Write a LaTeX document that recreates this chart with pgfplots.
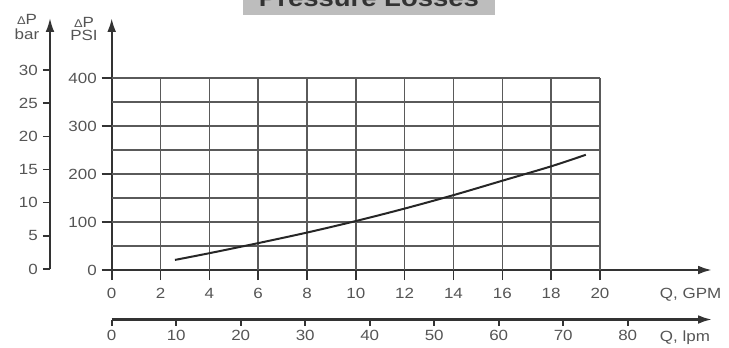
\documentclass[border=0pt]{standalone}
\usepackage{fontspec}
\setmainfont{Liberation Sans}[FakeStretch=1.15]
\usepackage{pgfplots}
\pgfplotsset{compat=1.18}
\usetikzlibrary{arrows.meta}
\definecolor{axc}{HTML}{333333}
\definecolor{gridc}{HTML}{5A5A5A}
\definecolor{txt}{HTML}{555555}
\definecolor{titlebox}{HTML}{BDBDBD}
\newcommand{\tf}{\fontsize{10.5}{12}\selectfont}
\begin{document}
\begin{tikzpicture}[x=0.25mm,y=0.25mm]
\path[use as bounding box] (0,0) rectangle (729,347);
\clip (0,0) rectangle (729,347);
\coordinate (mainO) at (111.7,77);
\coordinate (barO) at (50,78);
\coordinate (lpmO) at (111.7,27.5);
% title box (cut at top as in the reference)
\fill[titlebox] (243,332) rectangle (495,360);
\node[anchor=base, font=\bfseries\fontsize{17}{20}\selectfont, text=axc, inner sep=0pt] at (369,340) {Pressure Losses};

% main axis: Q in GPM vs Delta P in PSI
\begin{axis}[
  scale only axis,
  at={(mainO)}, anchor=south west,
  width=150.08mm, height=63mm,
  xmin=0, xmax=24.59, ymin=0, ymax=525,
  axis lines=left,
  axis line style={axc, line width=0.6mm},
  x axis line style={-{Latex[length=3.5mm,width=2.2mm]}},
  y axis line style={-{Latex[length=3.5mm,width=2.2mm]}},
  xtick={0,2,...,20}, ytick={0,100,...,400},
  tick align=outside, major tick length=2.5mm,
  tick style={axc, line width=0.4mm},
  ticklabel style={font=\tf, text=txt},
  xticklabel style={yshift=-0.8mm},
  /pgf/number format/assume math mode=true,
  clip=false,
]
\pgfplotsinvokeforeach{2,4,...,20}{\draw[gridc, line width=0.35mm] (axis cs:#1,0) -- (axis cs:#1,400);}
\pgfplotsinvokeforeach{50,100,...,400}{\draw[gridc, line width=0.35mm] (axis cs:0,#1) -- (axis cs:20,#1);}
\addplot[color=black!85, line width=0.5mm, smooth] coordinates {
  (2.59,21) (4,35) (6,56) (8,78) (10,102) (12,128) (14,156) (16,186) (18,216) (19.42,240)
};
\end{axis}

% bar axis
\begin{axis}[
  scale only axis,
  at={(barO)}, anchor=south west,
  width=1mm, height=62.75mm,
  xmin=0, xmax=1, ymin=0, ymax=37.85,
  axis y line=left, axis x line=none,
  axis line style={axc, line width=0.5mm},
  y axis line style={-{Latex[length=3.5mm,width=2.2mm]}},
  ytick={0,5,...,30},
  tick align=outside, major tick length=1.8mm,
  tick style={axc, line width=0.4mm},
  ticklabel style={font=\tf, text=txt},
  /pgf/number format/assume math mode=true,
]
\end{axis}

% lpm axis
\begin{axis}[
  scale only axis,
  at={(lpmO)}, anchor=south west,
  width=150.08mm, height=1mm,
  xmin=0, xmax=93.07, ymin=0, ymax=1,
  axis x line=bottom, axis y line=none,
  axis line style={axc, line width=0.6mm},
  x axis line style={-{Latex[length=3.5mm,width=2.2mm]}},
  xtick={0,10,...,80},
  tick align=outside, major tick length=1.5mm,
  tick style={axc, line width=0.4mm},
  ticklabel style={font=\tf, text=txt},
  /pgf/number format/assume math mode=true,
]
\end{axis}

% axis labels
\node[anchor=west, font=\tf, text=txt] at (655,52) {Q, GPM};
\node[anchor=west, font=\tf, text=txt] at (655,9.5) {Q, lpm};
\node[font=\tf, text=txt] at (84,325) {{\fontsize{8}{9}\selectfont Δ}P};
\node[font=\tf, text=txt] at (84,312) {PSI};
\node[font=\tf, text=txt] at (27,328) {{\fontsize{8}{9}\selectfont Δ}P};
\node[font=\tf, text=txt] at (27,313) {bar};
\end{tikzpicture}
\end{document}
